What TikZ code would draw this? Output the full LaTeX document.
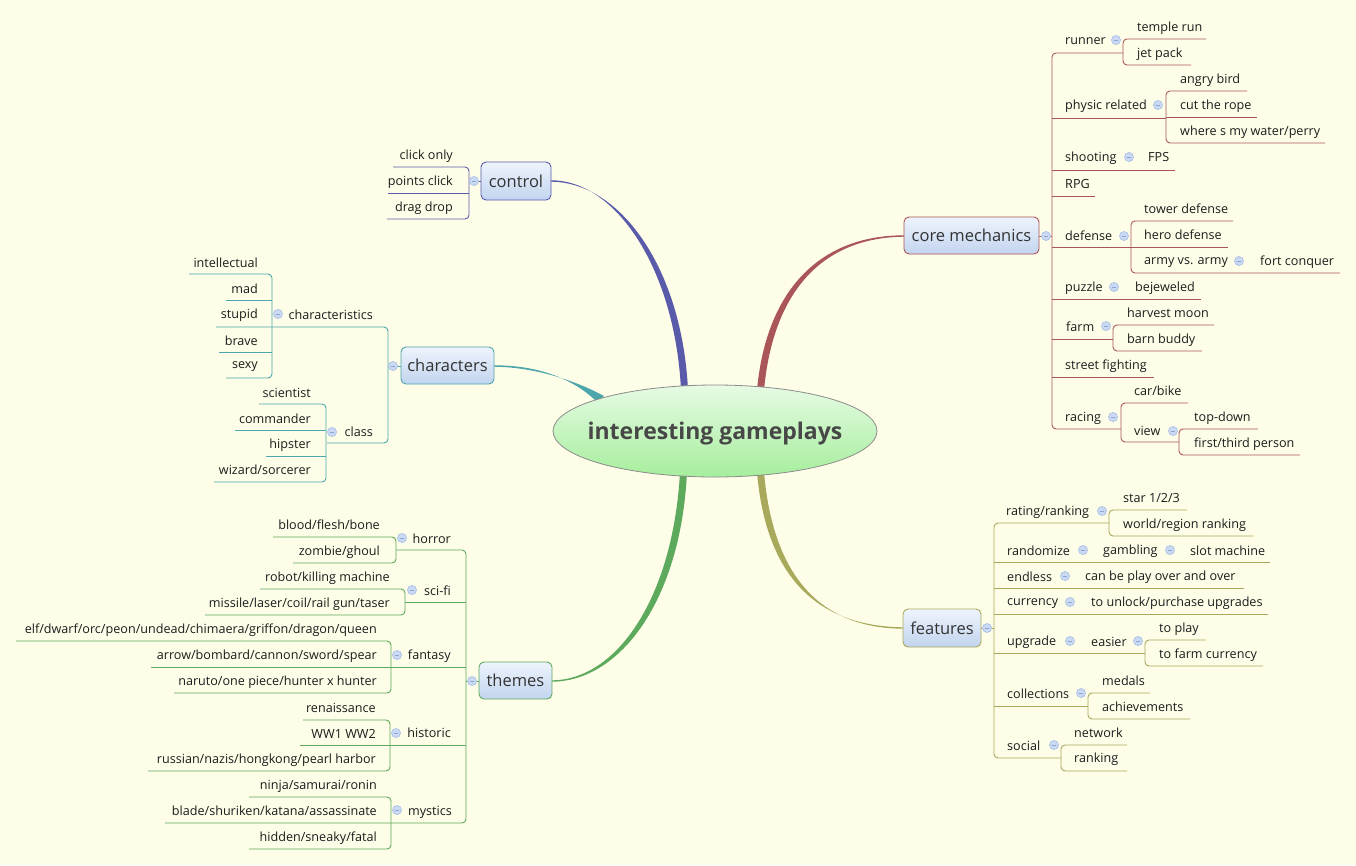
\documentclass[tikz,border=0pt]{standalone}
\usepackage{fontspec}
\setmainfont{Open Sans}
\usetikzlibrary{shapes.geometric}
\definecolor{bg}{HTML}{FDFDE8}
\definecolor{txt}{HTML}{1C1C1C}
\definecolor{colCt}{HTML}{5A5AAA}
\definecolor{colCm}{HTML}{AA5558}
\definecolor{colCh}{HTML}{4DA6AC}
\definecolor{colTh}{HTML}{5DAA5D}
\definecolor{colFt}{HTML}{A9A95C}
\definecolor{ccf}{HTML}{CBDAF2}
\definecolor{ccd}{HTML}{A9C1E9}
\definecolor{ccm}{HTML}{8CA5D6}
\definecolor{boxtop}{HTML}{EEF4FC}
\definecolor{boxbot}{HTML}{C2D4EF}
\definecolor{eltop}{HTML}{E6FBE4}
\definecolor{elbot}{HTML}{A6EE9C}
\newcommand\nR[4]{\node[lf,anchor=base west] (#1) at (#2,#3) {#4};}
\newcommand\nL[4]{\node[lf,anchor=base east] (#1) at (#2,#3) {#4};}
\newcommand\hl[4]{\draw[#1,thin line] (#2,#4) -- (#3,#4);}
\newcommand\elb[6]{\draw[#1,thin line,rounded corners=4pt] (#2,#3) -- (#4,#3) -- (#4,#5) -- (#6,#5);}
\newcommand\cc[2]{\filldraw[fill=ccf,draw=ccd,line width=0.7pt] (#1,#2) circle[radius=4.5pt]; \draw[ccm,line width=0.8pt] ({#1-2.2},#2) -- ({#1+2.2},#2);}
\begin{document}
\begin{tikzpicture}[x=1pt,y=-1pt,
  lf/.style={font=\fontsize{12.6}{14}\selectfont, text=txt, inner sep=0pt},
  thin line/.style={line width=0.9pt},
  box/.style={rectangle, rounded corners=5pt, line width=0.9pt, top color=boxtop, bottom color=boxbot, text=txt!90, font=\fontsize{16.5}{19}\selectfont, inner sep=0pt}]
\fill[bg] (0,0) rectangle (1356,865);
\useasboundingbox (0,0) rectangle (1356,865);

% main branches (tapered)
\fill[colCt] (681,390) .. controls (675,268) and (615,180) .. (551,180.3) -- (551,181.7) .. controls (620,182) and (682,268) .. (688,390) -- cycle;
\fill[colCm] (757,390) .. controls (766,292) and (818,235) .. (905,235.3) -- (905,236.7) .. controls (822,237) and (773,292) .. (764,390) -- cycle;
\fill[colCh] (597,402) .. controls (575,380) and (540,365) .. (493,365.3) -- (493,366.7) .. controls (540,367) and (582,384) .. (604,396) -- cycle;
\fill[colTh] (680,472) .. controls (673,600) and (615,681) .. (551,680.3) -- (551,681.7) .. controls (620,682) and (681,600) .. (687,472) -- cycle;
\fill[colFt] (757,472) .. controls (766,578) and (818,627) .. (905,627.3) -- (905,628.7) .. controls (822,629) and (773,578) .. (764,472) -- cycle;

% central topic
\node[ellipse, minimum width=324pt, minimum height=92pt, inner sep=0pt, draw=black!45, line width=0.8pt, top color=eltop, bottom color=elbot] (center) at (715,431) {};
\node[anchor=base, inner sep=0pt, font=\fontsize{23}{27}\selectfont\bfseries, text=black!72] (centertext) at (715,439) {interesting gameplays};

% ---------- core mechanics ----------
\draw[colCm,thin line] (1039,236) -- (1052,236);
\elb{colCm}{1123}{53}{1052}{429}{1121}
\hl{colCm}{1052}{1166}{118}
\hl{colCm}{1052}{1175}{170}
\hl{colCm}{1052}{1095}{196}
\hl{colCm}{1052}{1131}{247}
\hl{colCm}{1052}{1201}{299}
\hl{colCm}{1052}{1113}{339}
\hl{colCm}{1052}{1154}{377}
\elb{colCm}{1206}{39}{1123}{65}{1191}
\elb{colCm}{1247}{91}{1166}{143}{1325}
\hl{colCm}{1166}{1257}{117}
\elb{colCm}{1233}{221}{1131}{273}{1340}
\hl{colCm}{1131}{1228}{247}
\elb{colCm}{1214}{325}{1113}{351}{1202}
\elb{colCm}{1188}{403}{1121}{442}{1179}
\elb{colCm}{1258}{429}{1179}{455}{1300}
\node[box, draw=colCm, minimum width=135pt, minimum height=37pt] (core) at (971.5,235.5) {core mechanics};
\cc{1046}{236}\cc{1116}{40}\cc{1158}{105}\cc{1129}{157}\cc{1124}{236}\cc{1239}{261}\cc{1114}{287}\cc{1106}{326}\cc{1113}{417}\cc{1173}{431}
\nR{runner}{1065}{44.5}{runner}
\nR{templerun}{1137}{31}{temple run}
\nR{jetpack}{1137}{57}{jet pack}
\nR{physic}{1065}{109.5}{physic related}
\nR{angry}{1180}{83}{angry bird}
\nR{rope}{1180}{109}{cut the rope}
\nR{water}{1180}{135}{where s my water/perry}
\nR{shooting}{1065}{161}{shooting}
\nR{fps}{1148}{161}{FPS}
\nR{rpg}{1065}{188}{RPG}
\nR{defense}{1065}{240}{defense}
\nR{tower}{1144}{213}{tower defense}
\nR{hero}{1144}{239}{hero defense}
\nR{army}{1144}{264}{army vs. army}
\nR{fort}{1260}{265}{fort conquer}
\nR{puzzle}{1065}{291}{puzzle}
\nR{bejeweled}{1135}{291}{bejeweled}
\nR{farm}{1066}{331}{farm}
\nR{harvest}{1127}{317}{harvest moon}
\nR{barn}{1127}{343}{barn buddy}
\nR{street}{1065}{369}{street fighting}
\nR{racing}{1065}{421}{racing}
\nR{carbike}{1134}{395}{car/bike}
\nR{view}{1134}{435}{view}
\nR{topdown}{1194}{421}{top-down}
\nR{person}{1194}{447}{first/third person}

% ---------- features ----------
\draw[colFt,thin line] (981,628) -- (994,628);
\elb{colFt}{1109}{523}{994}{758}{1061}
\hl{colFt}{994}{1270}{562}
\hl{colFt}{994}{1244}{588}
\hl{colFt}{994}{1268}{614}
\hl{colFt}{994}{1145}{653}
\hl{colFt}{994}{1088}{706}
\elb{colFt}{1187}{510}{1109}{536}{1253}
\elb{colFt}{1206}{640}{1145}{666}{1263}
\elb{colFt}{1150}{693}{1088}{719}{1190}
\elb{colFt}{1127}{745}{1061}{771}{1127}
\node[box, draw=colFt, minimum width=78pt, minimum height=38pt] (features) at (942,628) {features};
\cc{987}{628}\cc{1102}{511}\cc{1083}{550}\cc{1170}{550}\cc{1065}{576}\cc{1070}{602}\cc{1070}{641}\cc{1138}{641}\cc{1081}{693}\cc{1054}{745}
\nR{rating}{1006}{515}{rating/ranking}
\nR{star}{1123}{502}{star 1/2/3}
\nR{world}{1123}{528}{world/region ranking}
\nR{randomize}{1007}{555}{randomize}
\nR{gambling}{1103}{554}{gambling}
\nR{slot}{1190}{555}{slot machine}
\nR{endless}{1007}{581}{endless}
\nR{overover}{1085}{580}{can be play over and over}
\nR{currency}{1007}{605}{currency}
\nR{unlock}{1091}{606}{to unlock/purchase upgrades}
\nR{upgrade}{1007}{645}{upgrade}
\nR{easier}{1091}{646}{easier}
\nR{toplay}{1159}{632}{to play}
\nR{tofarm}{1159}{658}{to farm currency}
\nR{collections}{1007}{698}{collections}
\nR{medals}{1102}{685}{medals}
\nR{achievements}{1102}{711}{achievements}
\nR{social}{1007}{750}{social}
\nR{network}{1074}{737}{network}
\nR{ranking}{1074}{762}{ranking}

% ---------- control ----------
\draw[colCt,thin line] (481,181) -- (469,181);
\elb{colCt}{393}{167}{469}{219}{387}
\hl{colCt}{469}{388}{193}
\node[box, draw=colCt, minimum width=70pt, minimum height=38pt] (control) at (516,181) {control};
\cc{474}{181}
\nL{clickonly}{453}{159}{click only}
\nL{pointsclick}{453}{185}{points click}
\nL{dragdrop}{453}{211}{drag drop}

% ---------- characters ----------
\draw[colCh,thin line] (401,366) -- (388,366);
\elb{colCh}{216}{327}{388}{443}{327}
\elb{colCh}{189}{274}{272}{378}{226}
\hl{colCh}{272}{226}{300}
\hl{colCh}{272}{219}{352}
\elb{colCh}{259}{404}{326}{482}{214}
\hl{colCh}{326}{235}{430}
\hl{colCh}{326}{266}{456}
\node[box, draw=colCh, minimum width=93pt, minimum height=37pt] (characters) at (447.5,365.5) {characters};
\cc{393}{366}\cc{278}{314}\cc{332}{432}
\nL{characteristics}{373}{319}{characteristics}
\nL{intellectual}{258}{267}{intellectual}
\nL{mad}{258}{293}{mad}
\nL{stupid}{258}{318}{stupid}
\nL{brave}{258}{345}{brave}
\nL{sexy}{258}{368}{sexy}
\nL{class}{373}{436}{class}
\nL{scientist}{311}{397}{scientist}
\nL{commander}{311}{423}{commander}
\nL{hipster}{311}{448}{hipster}
\nL{wizard}{311}{474}{wizard/sorcerer}

% ---------- themes ----------
\draw[colTh,thin line] (479,681) -- (466,681);
\elb{colTh}{396}{550}{466}{823}{165}
\hl{colTh}{466}{405}{602}
\hl{colTh}{466}{151}{667}
\hl{colTh}{466}{300}{745}
\elb{colTh}{273}{537}{396}{563}{293}
\elb{colTh}{260}{589}{405}{615}{205}
\elb{colTh}{16}{641}{391}{693}{174}
\elb{colTh}{303}{720}{390}{771}{148}
\elb{colTh}{249}{797}{391}{849}{249}
\node[box, draw=colTh, minimum width=73pt, minimum height=37pt] (themes) at (515.5,680.5) {themes};
\cc{472}{681}\cc{402}{538}\cc{412}{590}\cc{397}{655}\cc{396}{733}\cc{397}{810}
\nL{horror}{451}{543}{horror}
\nL{blood}{380}{529}{blood/flesh/bone}
\nL{zombie}{380}{555}{zombie/ghoul}
\nL{scifi}{451}{595}{sci-fi}
\nL{robot}{390}{581}{robot/killing machine}
\nL{missile}{390}{607}{missile/laser/coil/rail gun/taser}
\nL{fantasy}{451}{659}{fantasy}
\nL{elf}{377}{633}{elf/dwarf/orc/peon/undead/chimaera/griffon/dragon/queen}
\nL{arrow}{377}{659}{arrow/bombard/cannon/sword/spear}
\nL{naruto}{377}{685}{naruto/one piece/hunter x hunter}
\nL{historic}{451}{737}{historic}
\nL{renaissance}{376}{712}{renaissance}
\nL{ww}{376}{738}{WW1 WW2}
\nL{russian}{376}{763}{russian/nazis/hongkong/pearl harbor}
\nL{mystics}{452}{815}{mystics}
\nL{ninja}{377}{789}{ninja/samurai/ronin}
\nL{blade}{377}{815}{blade/shuriken/katana/assassinate}
\nL{hidden}{377}{841}{hidden/sneaky/fatal}
\end{tikzpicture}
\end{document}
